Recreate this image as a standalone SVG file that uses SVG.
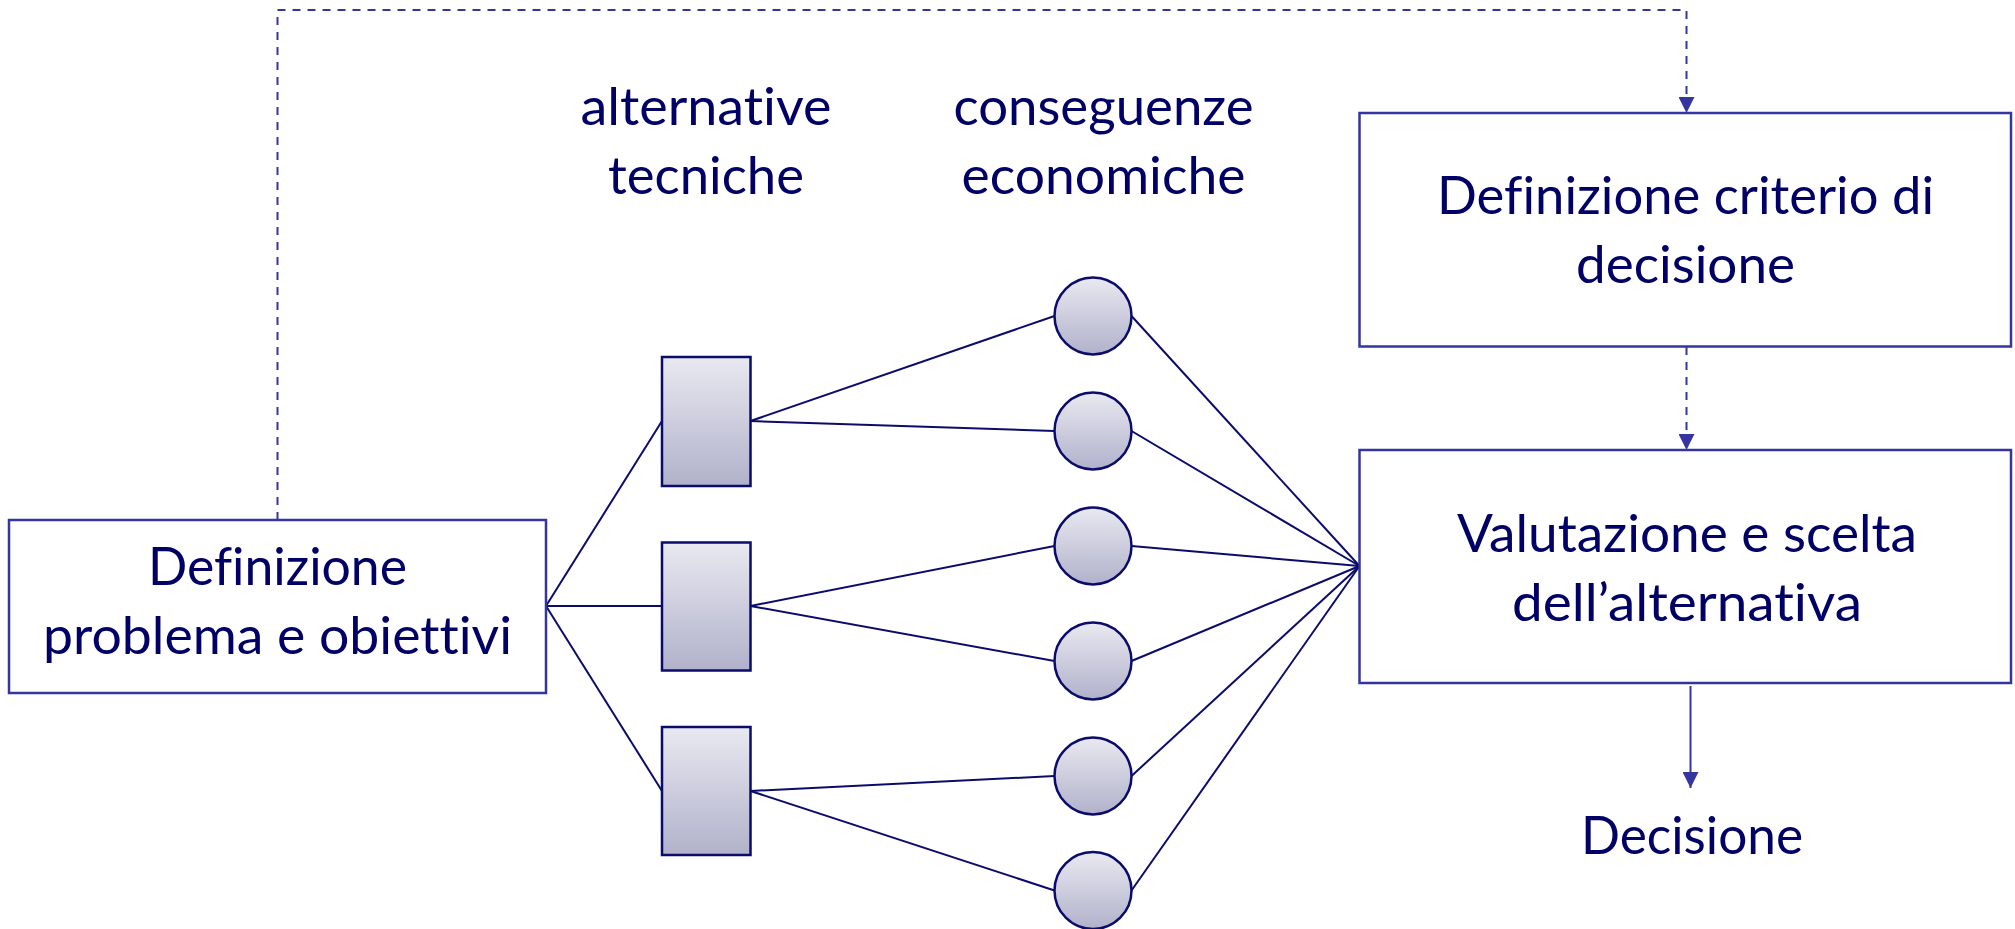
<svg xmlns="http://www.w3.org/2000/svg" width="2015" height="929" viewBox="0 0 2015 929">
  <style>
    .box { fill: #ffffff; stroke: #35359f; stroke-width: 2.5; }
    .alt { fill: url(#shade); stroke: #0b0b6c; stroke-width: 2.5; }
    .cons { fill: url(#shade); stroke: #0b0b6c; stroke-width: 2.5; }
    .link { fill: none; stroke: #0b0b6c; stroke-width: 2; }
    .dash { fill: none; stroke: #35359f; stroke-width: 2; stroke-dasharray: 8 7; }
    .flow { fill: none; stroke: #35359f; stroke-width: 2; }
    .lbl { font-family: Lato, "Liberation Sans", sans-serif; font-size: 53px; fill: #000066; text-anchor: middle; font-variant-ligatures: none; font-feature-settings: "liga" 0, "clig" 0; }
  </style>
  <defs>
    <linearGradient id="shade" x1="0" y1="0" x2="0" y2="1">
      <stop offset="0" stop-color="#e9e9f1"/>
      <stop offset="1" stop-color="#b1b1cb"/>
    </linearGradient>
    <marker id="head" viewBox="0 0 16 16" markerUnits="userSpaceOnUse" markerWidth="16" markerHeight="16" refX="16" refY="8" orient="auto">
      <path d="M0,0 L16,8 L0,16 z" fill="#35359f"/>
    </marker>
  </defs>

  <!-- connectors -->
  <g id="connectors">
    <path class="dash" d="M277.5,520 V10 H1686.5 V113" marker-end="url(#head)"/>
    <path class="dash" d="M1686.5,347 V450" marker-end="url(#head)"/>
    <path class="flow" d="M1690.5,686 V788" marker-end="url(#head)"/>

    <!-- problem to technical alternatives -->
    <line class="link" x1="546" y1="606" x2="662" y2="421"/>
    <line class="link" x1="546" y1="606" x2="662" y2="606"/>
    <line class="link" x1="546" y1="606" x2="662" y2="791"/>

    <!-- alternatives to economic consequences -->
    <line class="link" x1="750.5" y1="421" x2="1054.5" y2="316"/>
    <line class="link" x1="750.5" y1="421" x2="1054.5" y2="431"/>
    <line class="link" x1="750.5" y1="606" x2="1054.5" y2="546"/>
    <line class="link" x1="750.5" y1="606" x2="1054.5" y2="661"/>
    <line class="link" x1="750.5" y1="791" x2="1054.5" y2="776"/>
    <line class="link" x1="750.5" y1="791" x2="1054.5" y2="890.5"/>

    <!-- consequences to evaluation -->
    <line class="link" x1="1131.5" y1="316" x2="1359.5" y2="566"/>
    <line class="link" x1="1131.5" y1="431" x2="1359.5" y2="566"/>
    <line class="link" x1="1131.5" y1="546" x2="1359.5" y2="566"/>
    <line class="link" x1="1131.5" y1="661" x2="1359.5" y2="566"/>
    <line class="link" x1="1131.5" y1="776" x2="1359.5" y2="566"/>
    <line class="link" x1="1131.5" y1="890.5" x2="1359.5" y2="566"/>
  </g>

  <!-- column headings -->
  <g id="heading-alternative">
    <text class="lbl" x="706" y="125" textLength="251" lengthAdjust="spacingAndGlyphs">alternative</text>
    <text class="lbl" x="706" y="194" textLength="196" lengthAdjust="spacingAndGlyphs">tecniche</text>
  </g>
  <g id="heading-conseguenze">
    <text class="lbl" x="1103.5" y="125" textLength="300" lengthAdjust="spacingAndGlyphs">conseguenze</text>
    <text class="lbl" x="1103.5" y="194" textLength="284" lengthAdjust="spacingAndGlyphs">economiche</text>
  </g>

  <!-- problem definition -->
  <g id="node-problema">
    <rect class="box" x="9" y="520" width="537" height="173"/>
    <text class="lbl" x="277.5" y="585" textLength="259" lengthAdjust="spacingAndGlyphs">Definizione</text>
    <text class="lbl" x="277.5" y="654" textLength="469" lengthAdjust="spacingAndGlyphs">problema e obiettivi</text>
  </g>

  <!-- technical alternatives -->
  <g id="node-alt-1"><rect class="alt" x="662" y="357" width="88.5" height="129"/></g>
  <g id="node-alt-2"><rect class="alt" x="662" y="542.5" width="88.5" height="128"/></g>
  <g id="node-alt-3"><rect class="alt" x="662" y="727" width="88.5" height="128"/></g>

  <!-- economic consequences -->
  <g id="node-cons-1"><circle class="cons" cx="1093" cy="316" r="38.5"/></g>
  <g id="node-cons-2"><circle class="cons" cx="1093" cy="431" r="38.5"/></g>
  <g id="node-cons-3"><circle class="cons" cx="1093" cy="546" r="38.5"/></g>
  <g id="node-cons-4"><circle class="cons" cx="1093" cy="661" r="38.5"/></g>
  <g id="node-cons-5"><circle class="cons" cx="1093" cy="776" r="38.5"/></g>
  <g id="node-cons-6"><circle class="cons" cx="1093" cy="890.5" r="38.5"/></g>

  <!-- decision criterion -->
  <g id="node-criterio">
    <rect class="box" x="1359.5" y="113" width="651.5" height="233.5"/>
    <text class="lbl" x="1685.5" y="214" textLength="497" lengthAdjust="spacingAndGlyphs">Definizione criterio di</text>
    <text class="lbl" x="1685.5" y="283" textLength="219" lengthAdjust="spacingAndGlyphs">decisione</text>
  </g>

  <!-- evaluation and choice -->
  <g id="node-valutazione">
    <rect class="box" x="1359.5" y="450" width="651.5" height="233"/>
    <text class="lbl" x="1687" y="552" textLength="460" lengthAdjust="spacingAndGlyphs">Valutazione e scelta</text>
    <text class="lbl" x="1687" y="621" textLength="350" lengthAdjust="spacingAndGlyphs">dell’alternativa</text>
  </g>

  <!-- outcome -->
  <g id="node-decisione">
    <text class="lbl" x="1692" y="854" textLength="222" lengthAdjust="spacingAndGlyphs">Decisione</text>
  </g>
</svg>
